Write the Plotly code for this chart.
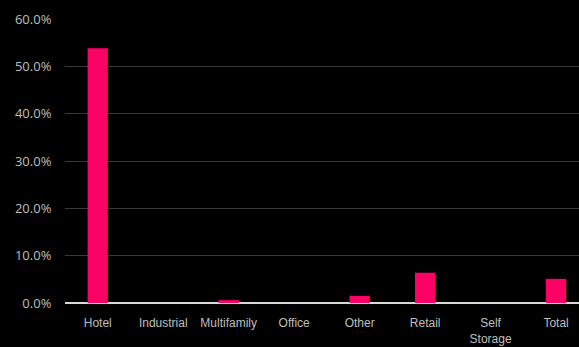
import plotly.graph_objects as go

categories = ["Hotel", "Industrial", "Multifamily", "Office", "Other", "Retail", "Self<br>Storage", "Total"]
values = [53.8, 0.0, 0.6, 0.0, 1.5, 6.4, 0.0, 5.1]
y_ticks = [0, 10, 20, 30, 40, 50, 60]
y_tick_labels = [f"{v:.1f}%" for v in y_ticks]

fig = go.Figure(go.Bar(x=list(range(len(categories))), y=values,
                       marker=dict(color="#FF0066", line=dict(width=0)), width=0.31))

fig.update_layout(
    width=579, height=347,
    margin=dict(l=65, r=0, t=19, b=44),
    paper_bgcolor="black", plot_bgcolor="black",
    showlegend=False,
    xaxis=dict(
        tickmode="array", tickvals=list(range(len(categories))), ticktext=categories,
        range=[-0.5, 7.35], showgrid=False, zeroline=False,
        showline=False, ticks="outside", ticklen=9, tickcolor="rgba(0,0,0,0)",
        tickfont=dict(family="Liberation Sans, Arial", size=12, color="#BFBFBF"),
    ),
    yaxis=dict(
        range=[0, 60], tickmode="array", tickvals=y_ticks, ticktext=y_tick_labels,
        showgrid=True, gridcolor="#3A3A3A", gridwidth=1,
        zeroline=True, zerolinecolor="#D9D9D9", zerolinewidth=1.5,
        ticks="outside", ticklen=10, tickcolor="rgba(0,0,0,0)",
        tickfont=dict(family="Open Sans, Noto Sans", size=13, color="#BFBFBF"),
    ),
)

fig.write_html("out.html")
